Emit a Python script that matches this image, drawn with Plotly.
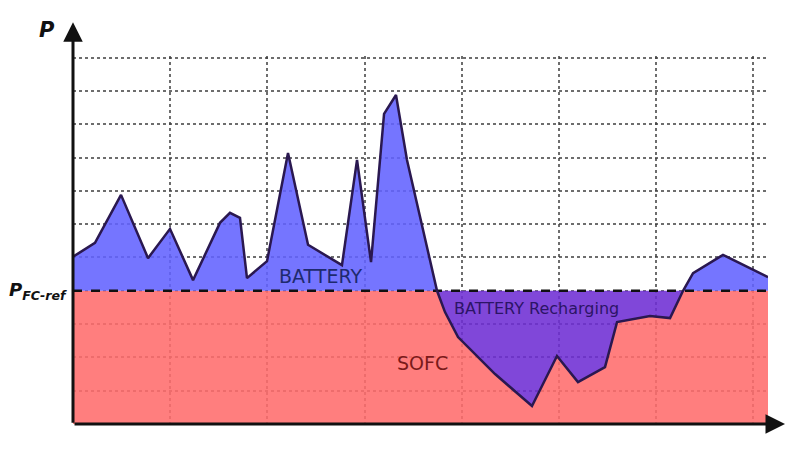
import plotly.graph_objects as go

# time axis (grid units) and load power (grid units)
t = [0.0, 0.226, 0.494, 0.772, 0.998, 1.235, 1.512, 1.615, 1.718, 1.790, 1.996,
     2.212, 2.418, 2.767, 2.922, 3.066, 3.200, 3.323, 3.436, 3.745, 3.827, 3.961,
     4.342, 4.722, 4.979, 5.195, 5.473, 5.597, 5.936, 6.142, 6.276, 6.379, 6.687, 7.150]
load = [5.02, 5.44, 6.88, 4.98, 5.86, 4.32, 6.04, 6.34, 6.19, 4.38, 4.89,
        8.14, 5.38, 4.77, 7.93, 4.86, 9.31, 9.88, 7.93, 4.00, 3.36, 2.61,
        1.50, 0.54, 2.04, 1.26, 1.71, 3.06, 3.24, 3.18, 4.00, 4.53, 5.08, 4.41]
p_ref = 4.0
x_grid = [1, 2, 3, 4, 5, 6, 7]
y_grid = [1, 2, 3, 4, 5, 6, 7, 8, 9, 10, 11]
x_range = [0, 7.15]
y_range = [0, 11.05]

sofc = [min(v, p_ref) for v in load]
ref_line = [p_ref for _ in load]
batt = [max(v, p_ref) for v in load]

fig = go.Figure()
fig.add_trace(go.Scatter(x=t, y=sofc, mode="lines", line=dict(width=0),
                         fill="tozeroy", fillcolor="rgba(255,108,108,0.88)",
                         hoverinfo="skip", showlegend=False))
fig.add_trace(go.Scatter(x=t, y=ref_line, mode="lines", line=dict(width=0),
                         fill="tonexty", fillcolor="rgba(110,45,212,0.88)",
                         hoverinfo="skip", showlegend=False))
fig.add_trace(go.Scatter(x=t, y=batt, mode="lines", line=dict(width=0),
                         fill="tonexty", fillcolor="rgba(98,98,255,0.88)",
                         hoverinfo="skip", showlegend=False))
# reference dashed line
fig.add_trace(go.Scatter(x=[t[0], t[-1]], y=[p_ref, p_ref], mode="lines",
                         line=dict(color="#111111", width=2.5, dash="dash"),
                         hoverinfo="skip", showlegend=False))
# load curve
fig.add_trace(go.Scatter(x=t, y=load, mode="lines",
                         line=dict(color="#2a1850", width=2.5),
                         hoverinfo="skip", showlegend=False))

# axes arrows (paper-referenced heads beyond the plot area)
fig.add_annotation(x=0, y=1.092, xref="paper", yref="paper", ax=0, ay=402,
                   showarrow=True, arrowhead=2, arrowsize=1.3, arrowwidth=3,
                   arrowcolor="#111111", text="")
fig.add_annotation(x=1.0245, y=0, xref="paper", yref="paper", ax=-712, ay=0,
                   showarrow=True, arrowhead=2, arrowsize=1.3, arrowwidth=3,
                   arrowcolor="#111111", text="")

font = "DejaVu Sans"
fig.add_annotation(x=0, y=1.071, xref="paper", yref="paper", xshift=-26,
                   xanchor="center", yanchor="middle", showarrow=False,
                   text="<b><i>P</i></b>", font=dict(family=font, size=21, color="#111111"))
fig.add_annotation(x=0, y=p_ref, xref="paper", yref="y", xshift=-4, yshift=0,
                   showarrow=False, xanchor="right", yanchor="middle",
                   text="<b><i>P</i></b><sub><b><i>FC-ref</i></b></sub>",
                   font=dict(family=font, size=18, color="#111111"))
fig.add_annotation(x=2.55, y=4.45, xref="x", yref="y", showarrow=False,
                   text="BATTERY", font=dict(family=font, size=19, color="#1e2a6e"))
fig.add_annotation(x=4.77, y=3.48, xref="x", yref="y", showarrow=False,
                   text="BATTERY Recharging", font=dict(family=font, size=16, color="#2c1466"))
fig.add_annotation(x=3.6, y=1.83, xref="x", yref="y", showarrow=False,
                   text="SOFC", font=dict(family=font, size=19, color="#7a1a1a"))

fig.update_xaxes(range=x_range, tickvals=x_grid, showticklabels=False, ticks="",
                 showgrid=True, gridcolor="rgba(60,60,60,0.75)", gridwidth=1.5, griddash="dot",
                 zeroline=False, showline=False)
fig.update_yaxes(range=y_range, tickvals=y_grid, showticklabels=False, ticks="",
                 showgrid=True, gridcolor="rgba(60,60,60,0.75)", gridwidth=1.5, griddash="dot",
                 zeroline=False, showline=False)
fig.update_layout(width=800, height=449, margin=dict(l=65, r=40, t=48, b=33),
                  plot_bgcolor="white", paper_bgcolor="white")
fig.write_html("out.html")
